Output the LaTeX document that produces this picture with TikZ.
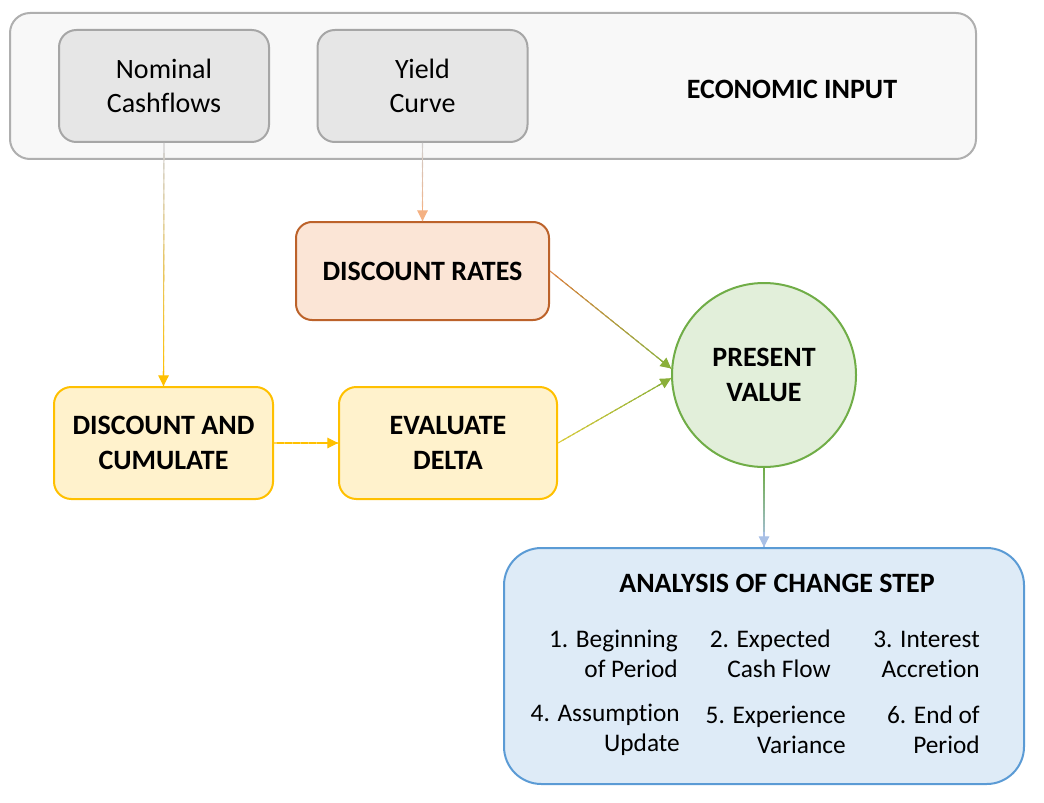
\documentclass[tikz,border=0pt]{standalone}
\usepackage{fontspec}
\setmainfont{Carlito}[Ligatures=NoCommon]
\usetikzlibrary{calc,arrows.meta}
\definecolor{ecofill}{HTML}{F8F8F8}
\definecolor{ecoline}{HTML}{AFAFAF}
\definecolor{grayfill}{HTML}{E6E6E6}
\definecolor{grayline}{HTML}{A6A6A6}
\definecolor{drfill}{HTML}{FBE5D6}
\definecolor{drline}{HTML}{BC622A}
\definecolor{yfill}{HTML}{FFF2CC}
\definecolor{yline}{HTML}{FFC000}
\definecolor{gfill}{HTML}{E2EFDA}
\definecolor{gline}{HTML}{70AD47}
\definecolor{bfill}{HTML}{DEEBF7}
\definecolor{bline}{HTML}{5B9BD5}
\definecolor{cgray}{HTML}{D0CECE}
\definecolor{cpeach}{HTML}{F4B183}
\definecolor{corange}{HTML}{D9823F}
\definecolor{cgreen}{HTML}{8AAF3A}
\definecolor{cyel}{HTML}{FFC000}
\definecolor{cyg}{HTML}{D8CB3A}
\definecolor{cblue}{HTML}{A9C0E6}
\newcommand{\gradconn}[4]{%
  \foreach \i in {0,...,23}{%
    \pgfmathsetmacro{\ga}{\i/24}%
    \pgfmathsetmacro{\gb}{min((\i+1.6)/24,1)}%
    \pgfmathtruncatemacro{\gm}{100-\i*100/23}%
    \draw[conn, draw=#3!\gm!#4] ($(#1)!\ga!(#2)$) -- ($(#1)!\gb!(#2)$);
  }%
  \draw[conn, draw=#4, fill=#4, -{Triangle[length=8pt,width=8pt]}] ($(#2)!11pt!(#1)$) -- (#2);
}
\tikzset{
  conn/.style={line width=0.8pt, line cap=butt},
  box/.style={draw, line width=1.5pt, align=center, inner sep=0pt},
  big/.style={font=\fontsize{21}{25.5}\selectfont},
  bigb/.style={font=\fontsize{21}{26.25}\selectfont\bfseries},
  item/.style={font=\fontsize{19}{22.5}\selectfont, align=right, anchor=east, inner sep=0pt},
}
\begin{document}
\begin{tikzpicture}[x=0.75pt,y=-0.75pt]
\useasboundingbox (0,0) rectangle (1044,802);
% economic input container
\node[box, fill=ecofill, draw=ecoline, rounded corners=15pt,
  minimum width=724.5pt, minimum height=109.5pt] (eco) at (493,86) {};
\node[bigb] (ecot) at (792,89) {ECONOMIC INPUT};
\node[box, big, fill=grayfill, draw=grayline, rounded corners=13pt,
  minimum width=157.5pt, minimum height=84pt] (nc) at (164,86) {Nominal\\Cashflows};
\node[box, big, fill=grayfill, draw=grayline, rounded corners=13pt,
  minimum width=157.5pt, minimum height=84pt] (yc) at (422.5,86) {Yield\\Curve};
% middle nodes
\node[box, bigb, fill=drfill, draw=drline, rounded corners=12pt,
  minimum width=189.75pt, minimum height=73.5pt] (dr) at (422.5,271) {DISCOUNT RATES};
\node[box, bigb, fill=yfill, draw=yline, rounded corners=13pt,
  minimum width=164.25pt, minimum height=84pt] (dc) at (163.5,443) {DISCOUNT AND\\CUMULATE};
\node[box, bigb, fill=yfill, draw=yline, rounded corners=13pt,
  minimum width=163.5pt, minimum height=84pt] (ed) at (448,443) {EVALUATE\\DELTA};
\node[box, bigb, circle, fill=gfill, draw=gline, minimum size=138pt] (pv) at (764,375) {PRESENT\\VALUE};
% analysis of change
\node[box, fill=bfill, draw=bline, rounded corners=28pt,
  minimum width=390pt, minimum height=177pt] (ac) at (764,666) {};
\node[bigb] (act) at (777,583) {ANALYSIS OF CHANGE STEP};
\node[item] (s1) at (678,654) {1. Beginning\\of Period};
\node[item] (s2) at (831,654) {2. Expected\\Cash Flow};
\node[item] (s3) at (980,654) {3. Interest\\Accretion};
\node[item] (s4) at (680,730) {4. Assumption\\Update};
\node[item] (s5) at (846,730) {5. Experience\\Variance};
\node[item] (s6) at (980,730) {6. End of\\Period};
% connectors
\gradconn{nc.south}{dc.north}{cgray}{cyel}
\gradconn{yc.south}{dr.north}{cgray}{cpeach}
\gradconn{dr.east}{pv.176}{corange}{cgreen}
\gradconn{ed.east}{pv.182}{cyg}{cgreen}
\gradconn{dc.east}{ed.west}{cyel}{cyel}
\gradconn{pv.south}{ac.north}{gline}{cblue}
\end{tikzpicture}
\end{document}
